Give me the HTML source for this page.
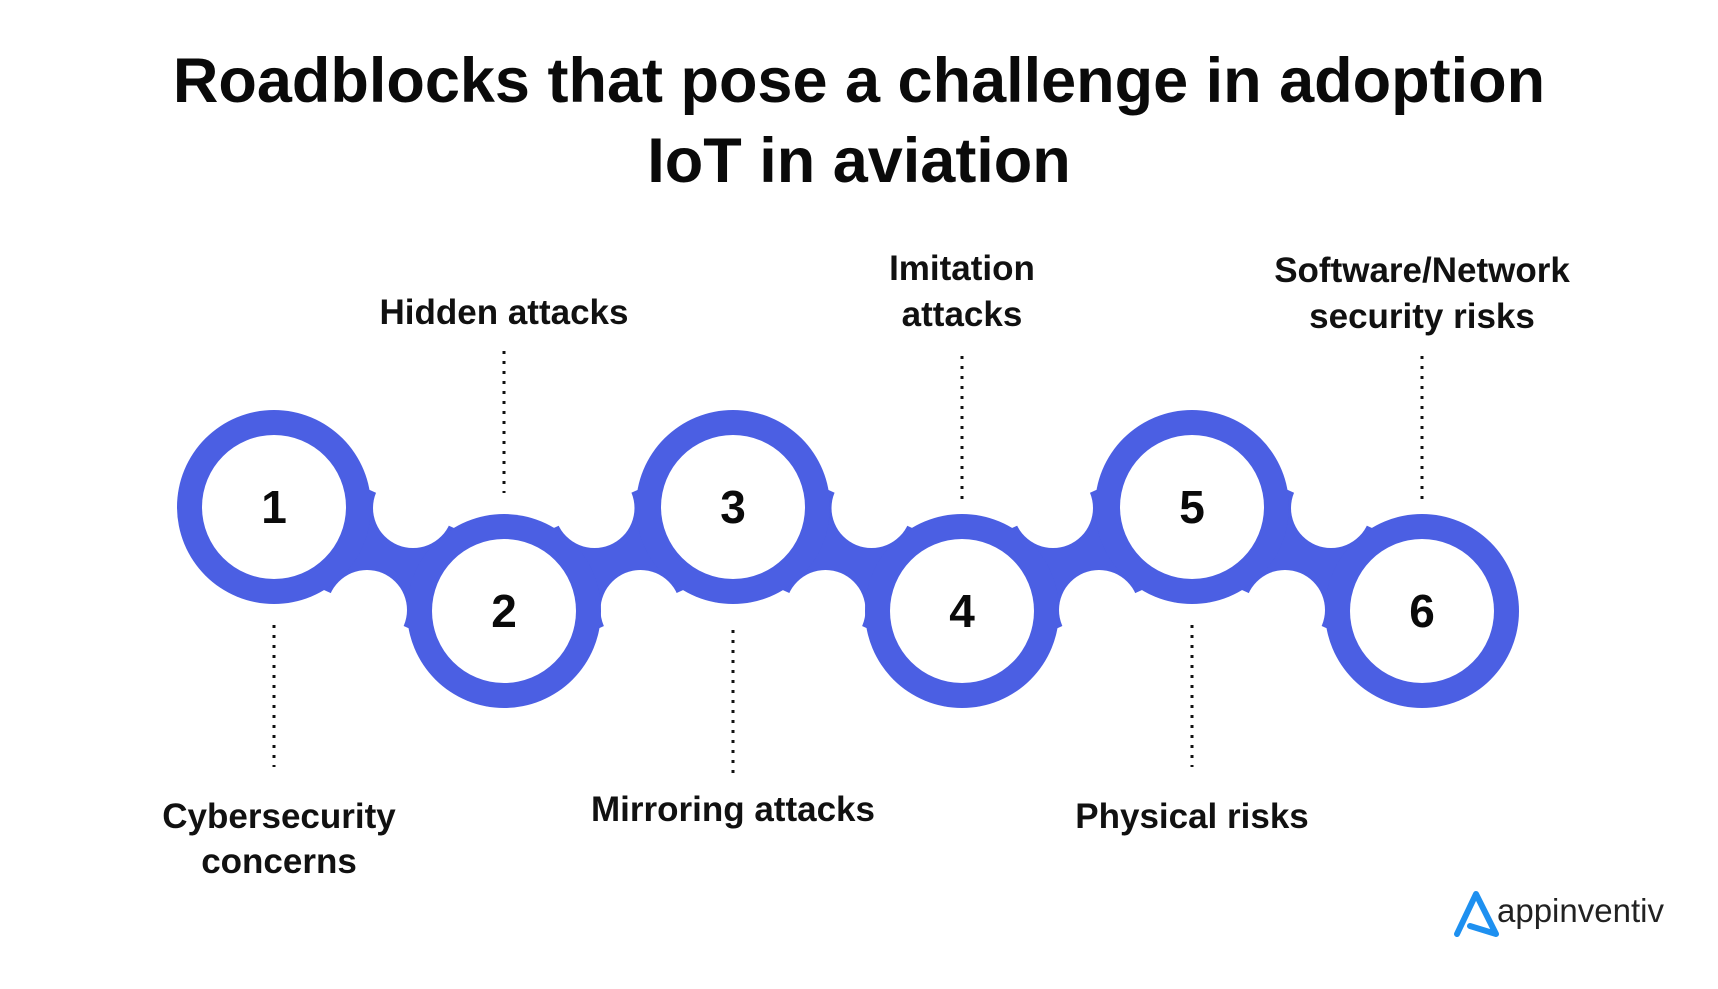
<!DOCTYPE html>
<html><head><meta charset="utf-8"><style>
html,body{margin:0;padding:0;background:#fff;}
body{width:1718px;height:989px;position:relative;overflow:hidden;font-family:"Liberation Sans",sans-serif;}
svg{position:absolute;left:0;top:0;}
</style></head><body>
<svg width="1718" height="989" viewBox="0 0 1718 989">
<text x="859" y="102" text-anchor="middle" font-size="63" font-weight="700" fill="#0a0a0a">Roadblocks that pose a challenge in adoption</text>
<text x="859" y="182" text-anchor="middle" font-size="63" font-weight="700" fill="#0a0a0a">IoT in aviation</text>
<polyline points="274,507 504,611 733,507 962,611 1192,507 1422,611" fill="none" stroke="#4B5FE3" stroke-width="110" stroke-linejoin="round"/>
<g fill="#fff">
<circle cx="413" cy="508" r="40"/><circle cx="367" cy="610" r="40"/>
<circle cx="594.5" cy="508" r="40"/><circle cx="640.5" cy="610" r="40"/>
<circle cx="871.5" cy="508" r="40"/><circle cx="825.5" cy="610" r="40"/>
<circle cx="1053" cy="508" r="40"/><circle cx="1099" cy="610" r="40"/>
<circle cx="1331" cy="508" r="40"/><circle cx="1285" cy="610" r="40"/>
</g>
<g fill="#4B5FE3">
<circle cx="274" cy="507" r="97"/><circle cx="504" cy="611" r="97"/><circle cx="733" cy="507" r="97"/>
<circle cx="962" cy="611" r="97"/><circle cx="1192" cy="507" r="97"/><circle cx="1422" cy="611" r="97"/>
</g>
<g fill="#fff">
<circle cx="274" cy="507" r="72"/><circle cx="504" cy="611" r="72"/><circle cx="733" cy="507" r="72"/>
<circle cx="962" cy="611" r="72"/><circle cx="1192" cy="507" r="72"/><circle cx="1422" cy="611" r="72"/>
</g>
<g font-size="46" font-weight="700" fill="#0a0a0a" text-anchor="middle">
<text x="274" y="523">1</text><text x="504" y="627">2</text><text x="733" y="523">3</text>
<text x="962" y="627">4</text><text x="1192" y="523">5</text><text x="1422" y="627">6</text>
</g>
<g stroke="#111" stroke-width="3" stroke-dasharray="3 7" fill="none">
<line x1="504" y1="351" x2="504" y2="493"/><line x1="962" y1="356" x2="962" y2="499"/><line x1="1422" y1="356" x2="1422" y2="499"/>
<line x1="274" y1="625" x2="274" y2="767"/><line x1="733" y1="630" x2="733" y2="773"/><line x1="1192" y1="625" x2="1192" y2="767"/>
</g>
<g font-size="35" font-weight="700" fill="#111" text-anchor="middle">
<text x="504" y="324">Hidden attacks</text>
<text x="962" y="280">Imitation</text><text x="962" y="326">attacks</text>
<text x="1422" y="282">Software/Network</text><text x="1422" y="328">security risks</text>
<text x="279" y="828">Cybersecurity</text><text x="279" y="873">concerns</text>
<text x="733" y="821">Mirroring attacks</text>
<text x="1192" y="828">Physical risks</text>
</g>
<polyline points="1457,934 1476,894 1496,934 1470,926" fill="none" stroke="#1E90F0" stroke-width="6" stroke-linejoin="round" stroke-linecap="round"/>
<text x="1497" y="922" font-size="33" fill="#222">appinventiv</text>
</svg>
</body></html>
